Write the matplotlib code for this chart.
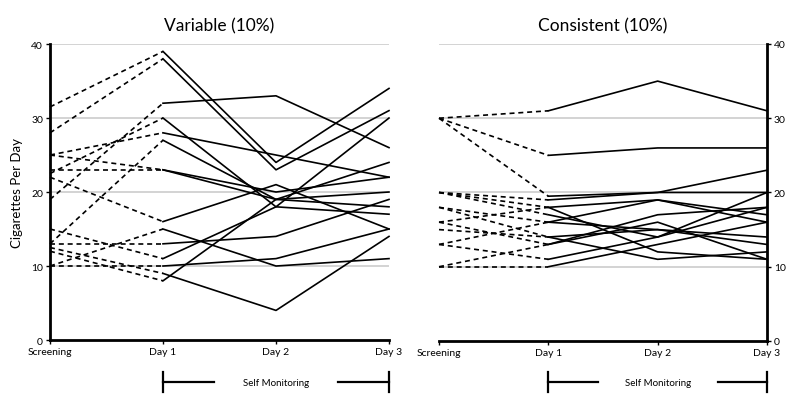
import matplotlib
matplotlib.use("Agg")
import matplotlib.pyplot as plt
import matplotlib.transforms as mtransforms
from matplotlib.lines import Line2D

plt.rcParams['font.family'] = ['Lato', 'DejaVu Sans']

days = ["Screening", "Day 1", "Day 2", "Day 3"]
y_ticks = [0, 10, 20, 30, 40]

# each row: screening, day 1, day 2, day 3
variable_data = [
    [31.5, 39, 24, 34],
    [28, 38, 23, 31],
    [19, 32, 33, 26],
    [25, 28, 25, 22],
    [22.5, 30, 18, 17],
    [13, 27, 19, 20],
    [25, 23, 19, 18],
    [23, 23, 20, 22],
    [22, 16, 21, 15],
    [10, 15, 10, 11],
    [13, 13, 14, 19],
    [15, 11, 18, 30],
    [10, 10, 11, 15],
    [12.5, 9, 4, 14],
    [12, 8, 19, 24],
]

consistent_data = [
    [30, 31, 35, 31],
    [30, 25, 26, 26],
    [30, 19.5, 20, 23],
    [20, 19, 20, 20],
    [20, 18, 19, 16],
    [20, 17, 14, 18],
    [18, 16, 19, 17],
    [18, 14, 15, 13],
    [16, 13, 17, 18],
    [16, 18, 12, 11],
    [15, 14, 11, 12],
    [13, 16, 15, 14],
    [13, 11, 14, 20],
    [10, 10, 13, 16],
    [10, 13, 16, 11],
]

titles = ["Variable (10%)", "Consistent (10%)"]

fig = plt.figure(figsize=(8, 4.02), dpi=100)
ax1 = fig.add_axes([0.0625, 0.1517, 0.42375, 0.7363])
ax2 = fig.add_axes([0.54875, 0.1493, 0.41, 0.7388])

x = list(range(len(days)))

for ax, data, title, side in [(ax1, variable_data, titles[0], "left"),
                              (ax2, consistent_data, titles[1], "right")]:
    for v in y_ticks[1:]:
        ax.axhline(v, color="#c8c8c8", lw=1.1, zorder=1)
    for row in data:
        ax.plot(x[:2], row[:2], color="black", lw=1.2, ls=(0, (3, 2.3)),
                zorder=3, clip_on=False)
        ax.plot(x[1:], row[1:], color="black", lw=1.2, zorder=3, clip_on=False)
    ax.set_xlim(0, 3)
    ax.set_ylim(0, 40)
    ax.set_xticks(x)
    ax.set_xticklabels(days, fontsize=7)
    ax.set_yticks(y_ticks)
    ax.tick_params(axis="both", direction="out", length=3, width=1, colors="black",
                   labelsize=7.5, pad=2)
    ax.set_title(title, fontsize=12.5, pad=10)
    for s in ["top", "left", "right"]:
        ax.spines[s].set_visible(False)
    ax.spines["bottom"].set_linewidth(2)
    ax.spines[side].set_visible(True)
    ax.spines[side].set_linewidth(2)
    if side == "right":
        ax.yaxis.tick_right()

    # self monitoring bracket under the axis
    tr = mtransforms.blended_transform_factory(ax.transData, fig.transFigure)
    yb = 0.047
    fig.add_artist(Line2D([1, 1], [yb - 0.025, yb + 0.025], transform=tr, color="black", lw=1.6))
    fig.add_artist(Line2D([3, 3], [yb - 0.025, yb + 0.025], transform=tr, color="black", lw=1.6))
    fig.add_artist(Line2D([1, 1.45], [yb, yb], transform=tr, color="black", lw=1.6))
    fig.add_artist(Line2D([2.55, 3], [yb, yb], transform=tr, color="black", lw=1.6))
    fig.text(2, yb, "Self Monitoring", transform=tr, ha="center", va="center", fontsize=7)

ax1.set_ylabel("Cigarettes Per Day", fontsize=9.5, labelpad=6)

fig.savefig("out.png", dpi=100)
